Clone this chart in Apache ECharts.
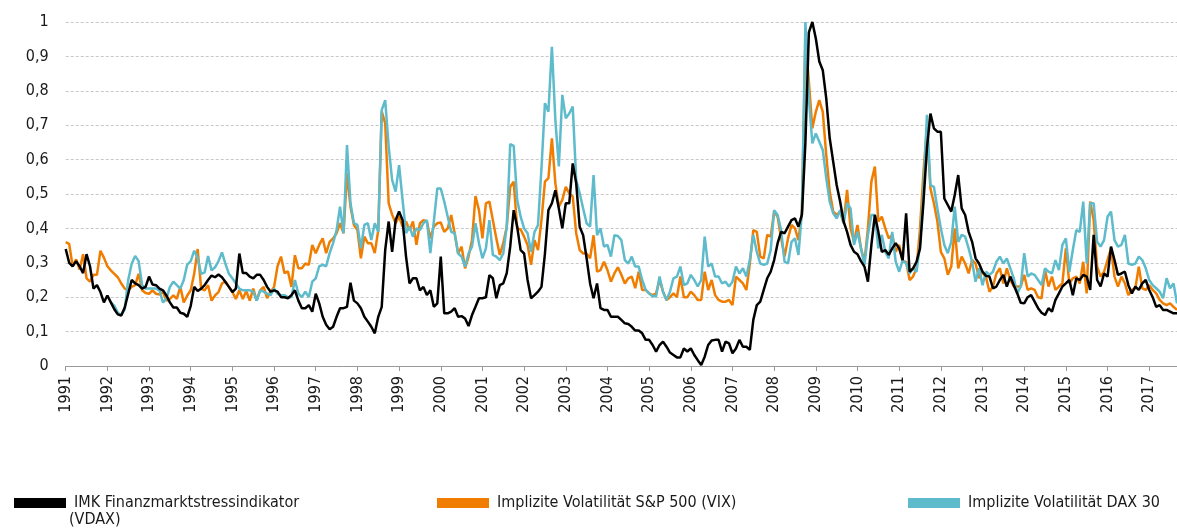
<!DOCTYPE html>
<html>
<head>
<meta charset="utf-8">
<script src="https://cdn.jsdelivr.net/npm/echarts@6/dist/echarts.min.js"></script>
<style>
html,body{margin:0;padding:0;background:#fff;}
#chart{width:1177px;height:532px;}
</style>
</head>
<body>
<div id="chart"></div>
<script>
// Tick labels (years); data is monthly from Jan 1991 to Sep 2017
const years = [1991,1992,1993,1994,1995,1996,1997,1998,1999,2000,2001,2002,2003,2004,2005,2006,2007,2008,2009,2010,2011,2012,2013,2014,2015,2016,2017];
const yTicks = [0,0.1,0.2,0.3,0.4,0.5,0.6,0.7,0.8,0.9,1];

const seriesNames = ['IMK Finanzmarktstressindikator','Implizite Volatilität S&P 500 (VIX)','Implizite Volatilität DAX 30'];

const stressIndex = [
0.34,0.30,0.29,0.305,0.29,0.27,0.325,0.29,0.225,0.235,0.215,0.185,
0.205,0.185,0.165,0.15,0.147,0.17,0.21,0.25,0.24,0.235,0.225,0.23,
0.26,0.237,0.235,0.225,0.22,0.205,0.185,0.17,0.17,0.155,0.152,0.143,
0.175,0.23,0.218,0.225,0.235,0.25,0.263,0.258,0.266,0.258,0.244,0.23,
0.215,0.225,0.327,0.27,0.27,0.26,0.255,0.265,0.265,0.25,0.23,0.216,
0.22,0.216,0.2,0.2,0.197,0.206,0.22,0.19,0.168,0.168,0.177,0.158,
0.21,0.182,0.143,0.12,0.107,0.114,0.143,0.168,0.168,0.172,0.242,0.19,
0.182,0.168,0.143,0.129,0.114,0.095,0.143,0.172,0.337,0.42,0.332,0.424,
0.449,0.424,0.318,0.24,0.255,0.255,0.22,0.23,0.206,0.22,0.172,0.182,
0.318,0.153,0.153,0.158,0.168,0.143,0.145,0.138,0.116,0.148,0.172,0.197,
0.197,0.2,0.264,0.255,0.197,0.235,0.24,0.27,0.347,0.453,0.405,0.337,
0.327,0.25,0.197,0.206,0.216,0.23,0.327,0.453,0.473,0.511,0.458,0.4,
0.473,0.473,0.589,0.531,0.405,0.38,0.313,0.24,0.197,0.24,0.168,0.163,
0.163,0.143,0.143,0.143,0.134,0.124,0.122,0.114,0.103,0.103,0.095,0.076,
0.076,0.061,0.042,0.061,0.071,0.056,0.039,0.032,0.025,0.025,0.051,0.042,
0.051,0.032,0.017,0.003,0.027,0.061,0.074,0.076,0.076,0.042,0.071,0.066,
0.037,0.051,0.076,0.056,0.056,0.047,0.134,0.177,0.187,0.221,0.255,0.274,
0.308,0.357,0.39,0.386,0.405,0.424,0.429,0.405,0.44,0.65,0.97,1.0,
0.952,0.885,0.86,0.778,0.662,0.594,0.526,0.478,0.42,0.39,0.352,0.332,
0.325,0.305,0.289,0.245,0.352,0.439,0.39,0.332,0.337,0.323,0.342,0.357,
0.342,0.308,0.444,0.274,0.284,0.303,0.342,0.478,0.633,0.734,0.691,0.681,
0.681,0.487,0.468,0.449,0.497,0.555,0.458,0.439,0.39,0.361,0.313,0.298,
0.274,0.262,0.26,0.226,0.231,0.25,0.265,0.231,0.26,0.235,0.211,0.184,
0.182,0.2,0.206,0.187,0.168,0.155,0.148,0.168,0.158,0.192,0.211,0.231,
0.24,0.25,0.206,0.255,0.25,0.265,0.26,0.221,0.381,0.25,0.231,0.269,
0.26,0.347,0.308,0.265,0.269,0.274,0.235,0.211,0.231,0.221,0.24,0.25,
0.221,0.2,0.172,0.177,0.163,0.163,0.158,0.153,0.153
];

const vix = [
0.36,0.355,0.29,0.31,0.28,0.325,0.255,0.245,0.265,0.265,0.335,0.315,
0.29,0.278,0.268,0.258,0.24,0.225,0.22,0.23,0.235,0.268,0.22,0.212,
0.21,0.22,0.21,0.208,0.215,0.19,0.195,0.205,0.195,0.23,0.185,0.205,
0.22,0.268,0.34,0.225,0.22,0.235,0.19,0.205,0.215,0.24,0.245,0.23,
0.215,0.195,0.22,0.195,0.218,0.19,0.225,0.19,0.22,0.23,0.197,0.216,
0.23,0.29,0.318,0.27,0.275,0.23,0.322,0.284,0.284,0.298,0.294,0.352,
0.328,0.352,0.371,0.328,0.361,0.371,0.386,0.415,0.386,0.56,0.463,0.41,
0.395,0.313,0.376,0.357,0.357,0.328,0.395,0.74,0.705,0.473,0.44,0.415,
0.434,0.405,0.42,0.395,0.42,0.352,0.415,0.424,0.42,0.371,0.405,0.415,
0.417,0.39,0.4,0.439,0.386,0.327,0.347,0.284,0.318,0.366,0.494,0.453,
0.371,0.473,0.478,0.424,0.371,0.323,0.357,0.405,0.521,0.536,0.4,0.397,
0.376,0.352,0.294,0.366,0.337,0.424,0.536,0.546,0.662,0.531,0.463,0.483,
0.521,0.502,0.492,0.386,0.337,0.327,0.327,0.313,0.38,0.274,0.279,0.303,
0.279,0.245,0.269,0.287,0.265,0.24,0.255,0.26,0.226,0.274,0.221,0.221,
0.211,0.206,0.211,0.25,0.216,0.192,0.2,0.211,0.2,0.26,0.2,0.2,
0.216,0.206,0.192,0.192,0.274,0.221,0.25,0.206,0.192,0.187,0.187,0.192,
0.177,0.26,0.25,0.24,0.221,0.298,0.395,0.39,0.318,0.313,0.381,0.376,
0.449,0.434,0.371,0.318,0.371,0.41,0.4,0.366,0.45,0.95,0.827,0.691,
0.739,0.773,0.739,0.613,0.507,0.449,0.439,0.449,0.415,0.512,0.4,0.361,
0.41,0.342,0.303,0.4,0.536,0.58,0.42,0.434,0.4,0.371,0.381,0.332,
0.352,0.303,0.303,0.25,0.26,0.284,0.4,0.565,0.691,0.516,0.473,0.42,
0.332,0.313,0.265,0.289,0.4,0.284,0.318,0.298,0.269,0.308,0.298,0.255,
0.274,0.258,0.216,0.231,0.269,0.284,0.24,0.284,0.25,0.231,0.231,0.231,
0.265,0.221,0.226,0.221,0.2,0.197,0.279,0.231,0.26,0.221,0.231,0.24,
0.342,0.24,0.255,0.26,0.24,0.303,0.211,0.478,0.424,0.289,0.26,0.274,
0.308,0.342,0.26,0.231,0.26,0.24,0.206,0.221,0.226,0.289,0.226,0.221,
0.235,0.221,0.211,0.192,0.182,0.177,0.182,0.172,0.163
];

const vdax = [
null,null,null,null,null,null,null,null,null,null,null,null,
null,0.185,0.175,0.155,0.148,0.165,0.25,0.297,0.32,0.305,0.235,0.225,
0.225,0.225,0.225,0.22,0.185,0.195,0.23,0.245,0.235,0.225,0.25,0.295,
0.305,0.335,0.315,0.268,0.272,0.32,0.278,0.287,0.305,0.33,0.297,0.268,
0.255,0.24,0.225,0.22,0.22,0.22,0.216,0.19,0.22,0.216,0.21,0.206,
0.225,0.21,0.206,0.206,0.2,0.2,0.25,0.21,0.2,0.216,0.2,0.245,
0.255,0.29,0.294,0.29,0.328,0.357,0.395,0.463,0.386,0.642,0.473,0.415,
0.41,0.342,0.41,0.415,0.366,0.415,0.39,0.744,0.773,0.638,0.54,0.507,
0.584,0.483,0.386,0.405,0.376,0.4,0.395,0.415,0.424,0.328,0.42,0.516,
0.516,0.478,0.434,0.39,0.386,0.327,0.318,0.289,0.327,0.347,0.415,0.357,
0.313,0.342,0.424,0.323,0.318,0.308,0.327,0.405,0.645,0.64,0.483,0.434,
0.4,0.386,0.332,0.39,0.41,0.575,0.764,0.739,0.928,0.715,0.58,0.788,
0.72,0.734,0.754,0.541,0.502,0.458,0.415,0.405,0.555,0.38,0.4,0.347,
0.352,0.318,0.38,0.378,0.366,0.308,0.298,0.318,0.289,0.289,0.25,0.221,
0.211,0.203,0.203,0.26,0.216,0.192,0.216,0.255,0.26,0.289,0.235,0.24,
0.265,0.25,0.231,0.25,0.376,0.289,0.298,0.26,0.26,0.24,0.245,0.231,
0.245,0.289,0.269,0.284,0.26,0.308,0.381,0.332,0.298,0.294,0.298,0.337,
0.453,0.439,0.395,0.303,0.298,0.361,0.371,0.323,0.45,1.0,0.778,0.647,
0.676,0.652,0.628,0.546,0.478,0.444,0.429,0.453,0.415,0.473,0.458,0.352,
0.39,0.342,0.294,0.381,0.439,0.439,0.342,0.381,0.332,0.313,0.39,0.303,
0.274,0.308,0.298,0.269,0.284,0.274,0.352,0.516,0.73,0.526,0.521,0.458,
0.4,0.352,0.328,0.361,0.463,0.361,0.381,0.376,0.342,0.303,0.245,0.284,
0.235,0.274,0.265,0.274,0.303,0.318,0.298,0.313,0.284,0.255,0.211,0.231,
0.328,0.26,0.269,0.265,0.25,0.235,0.284,0.274,0.269,0.308,0.279,0.352,
0.371,0.274,0.337,0.395,0.39,0.478,0.298,0.473,0.473,0.361,0.347,0.366,
0.434,0.449,0.366,0.347,0.352,0.381,0.298,0.294,0.298,0.318,0.308,0.284,
0.25,0.235,0.226,0.216,0.197,0.255,0.226,0.24,0.182
];

// monthly category labels built from the year list
const months = [];
years.forEach(function (y) {
  for (let m = 1; m <= 12; m++) months.push(y + '-' + (m < 10 ? '0' + m : m));
});
const categories = months.slice(0, stressIndex.length);

const FONT = "'Liberation Sans Narrow','DejaVu Sans Condensed',sans-serif";
const colors = ['#000000', '#F07D00', '#5DBBCB'];

const chart = echarts.init(document.getElementById('chart'), null, {renderer: 'canvas'});
const legendBase = {
  icon: 'rect', itemWidth: 52, itemHeight: 10, top: 490,
  textStyle: {fontFamily: FONT, fontSize: 16, color: '#1a1a1a', padding: [0, 0, 0, 3]}
};
chart.setOption({
  animation: false,
  color: colors,
  grid: {left: 65.7, right: 0, top: 22, bottom: 166, containLabel: false},
  legend: [
    Object.assign({}, legendBase, {data: [seriesNames[0]], left: 9}),
    Object.assign({}, legendBase, {data: [seriesNames[1]], left: 432}),
    Object.assign({}, legendBase, {data: [seriesNames[2]], left: 903})
  ],
  graphic: [{
    type: 'text', left: 69, top: 512,
    style: {text: '(VDAX)', fontFamily: FONT, fontSize: 16, fill: '#1a1a1a'}
  }],
  xAxis: {
    type: 'category',
    data: categories,
    boundaryGap: false,
    axisLine: {lineStyle: {color: '#9a9a9a', width: 1}},
    axisTick: {
      show: true, length: 5, lineStyle: {color: '#9a9a9a'},
      interval: function (i) { return i % 12 === 0; }
    },
    axisLabel: {
      interval: function (i) { return i % 12 === 0; },
      formatter: function (v) { return v.slice(0, 4); },
      rotate: 90, margin: 10,
      fontFamily: FONT, fontSize: 16, color: '#1a1a1a'
    },
    splitLine: {show: false}
  },
  yAxis: {
    type: 'value', min: yTicks[0], max: yTicks[yTicks.length - 1], interval: 0.1,
    axisLine: {show: false}, axisTick: {show: false},
    axisLabel: {
      margin: 17, fontFamily: FONT, fontSize: 16, color: '#1a1a1a',
      formatter: function (v) {
        const r = Math.round(v * 10) / 10;
        if (r === 0) return '0';
        if (r === 1) return '1';
        return r.toFixed(1).replace('.', ',');
      }
    },
    splitLine: {lineStyle: {color: '#c8c8c8', type: [3, 2], width: 1}}
  },
  series: [
    {name: seriesNames[1], type: 'line', data: vix, showSymbol: false, z: 2,
      lineStyle: {width: 2.5, color: colors[1]}, itemStyle: {color: colors[1]}},
    {name: seriesNames[2], type: 'line', data: vdax, showSymbol: false, z: 3,
      lineStyle: {width: 2.5, color: colors[2]}, itemStyle: {color: colors[2]}},
    {name: seriesNames[0], type: 'line', data: stressIndex, showSymbol: false, z: 4,
      lineStyle: {width: 2.5, color: colors[0]}, itemStyle: {color: colors[0]}}
  ]
});
</script>
</body>
</html>
